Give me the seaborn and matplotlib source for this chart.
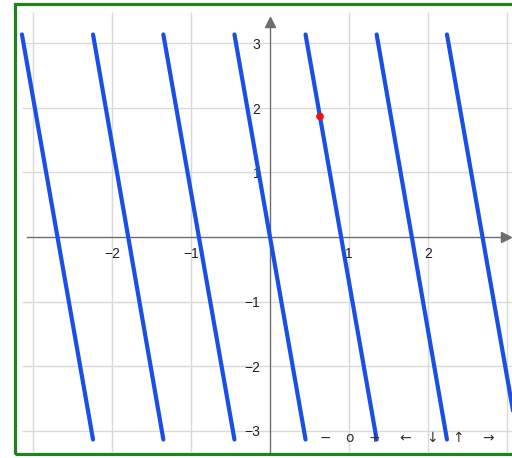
import numpy as np
import pandas as pd
import matplotlib
matplotlib.use("Agg")
import matplotlib.pyplot as plt
from matplotlib.patches import Rectangle
from matplotlib.ticker import MultipleLocator, FixedLocator
import seaborn as sns

# ---- data ----
segment_x_top = [-3.14, -2.24, -1.35, -0.45, 0.45, 1.35, 2.24]
segment_x_bottom = [-2.24, -1.35, -0.45, 0.45, 1.35, 2.24, 3.14]
segment_y_top = 3.14
segment_y_bottom = -3.14
point_x = [0.633]
point_y = [1.87]
x_tick_values = [-2, -1, 1, 2]
y_tick_values = [-3, -2, -1, 1, 2, 3]
grid_values_x = [-3, -2, -1, 1, 2, 3]
grid_values_y = [-3, -2, -1, 1, 2, 3]
control_labels = ["−", "o", "+", "←", "↓", "↑", "→"]

rows = []
for i, (xt, xb) in enumerate(zip(segment_x_top, segment_x_bottom)):
    rows.append({"seg": i, "x": xt, "y": segment_y_top})
    rows.append({"seg": i, "x": xb, "y": segment_y_bottom})
df = pd.DataFrame(rows)

sns.set_theme(style="white")
plt.rcParams["font.family"] = ["Liberation Sans", "DejaVu Sans"]

W, H = 512, 458
fig = plt.figure(figsize=(W / 100, H / 100), dpi=100)
ax = fig.add_axes([16 / W, (H - 452) / H, (W - 16) / W, (452 - 5) / H])

x0 = 270.0
y0 = 237.0
sx = 79.0
sy = 64.5
xlim = ((16 - x0) / sx, (512 - x0) / sx)
ylim = ((y0 - 452) / sy, (y0 - 5) / sy)
ax.set_xlim(*xlim)
ax.set_ylim(*ylim)

# grid lines (major only)
grid_top = (y0 - 12) / sy
grid_left = (22 - x0) / sx
ax.vlines(grid_values_x, ylim[0], grid_top, colors="#d9d9d9", linewidth=1, zorder=0)
ax.hlines(grid_values_y, grid_left, xlim[1], colors="#d9d9d9", linewidth=1, zorder=0)

# spines as axes through origin
for s in ["top", "right"]:
    ax.spines[s].set_visible(False)
ax.spines["left"].set_position(("data", 0))
ax.spines["bottom"].set_position(("data", 0))
ax.spines["left"].set_bounds(ylim[0], (y0 - 20) / sy)
ax.spines["bottom"].set_bounds((27 - x0) / sx, (506 - x0) / sx)
for s in ["left", "bottom"]:
    ax.spines[s].set_color("#6e6e6e")
    ax.spines[s].set_linewidth(1.0)
    ax.spines[s].set_zorder(1)

# arrow heads
ax.plot([0], [(y0 - 22) / sy], marker="^", color="#6e6e6e", markersize=7,
        clip_on=False, zorder=2)
ax.plot([(506 - x0) / sx], [0], marker=">", color="#6e6e6e", markersize=7,
        clip_on=False, zorder=2)

ax.xaxis.set_major_locator(FixedLocator(x_tick_values))
ax.yaxis.set_major_locator(FixedLocator(y_tick_values))
ax.xaxis.set_minor_locator(FixedLocator(np.round(np.arange(-3.0, 3.01, 0.2), 1)))
ax.yaxis.set_minor_locator(FixedLocator(np.round(np.arange(-3.2, 3.21, 0.2), 1)))
ax.set_xticklabels(["−2", "−1", "1", "2"])
ax.set_yticklabels(["−3", "−2", "−1", "1", "2", "3"])
ax.tick_params(axis="both", which="both", direction="out", length=4,
               width=0.8, color="#9a9a9a", labelsize=10, labelcolor="#222222")
ax.tick_params(axis="x", which="major", pad=3)
ax.tick_params(axis="y", which="major", pad=3)

# the curve segments
sns.lineplot(data=df, x="x", y="y", units="seg", estimator=None,
             color="#1a4fe6", linewidth=3, ax=ax, zorder=3, legend=False)
ax.lines[-1].set_solid_capstyle("round")
for ln in ax.lines:
    ln.set_solid_capstyle("round")

sns.scatterplot(x=point_x, y=point_y, color="#ee1111", s=30, edgecolor="none",
                ax=ax, zorder=4)

ax.set_xlabel("")
ax.set_ylabel("")

# control symbols along the bottom
ctrl_px = [325, 350, 374, 405, 432, 458, 488]
for lab, px in zip(control_labels, ctrl_px):
    ax.text((px - x0) / sx, (y0 - 438) / sy, lab, ha="center", va="center",
            fontsize=10, color="#333333", zorder=5,
            family=["DejaVu Sans"])

# green frame
fig.patches.append(Rectangle((14.5 / W, (H - 453.5) / H), (W + 10) / W,
                             (453.5 - 4) / H, transform=fig.transFigure,
                             fill=False, edgecolor="#22801f", linewidth=2.3,
                             zorder=10))

fig.savefig("out.png", dpi=100)
